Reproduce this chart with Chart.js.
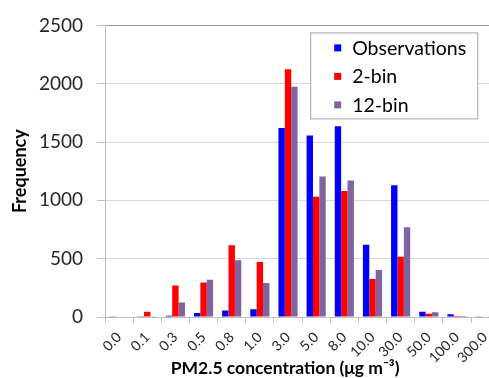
<!DOCTYPE html>
<html>
<head>
<meta charset="utf-8">
<script src="https://cdn.jsdelivr.net/npm/chart.js@4"></script>
<style>
  html, body { margin: 0; padding: 0; background: #fff; overflow: hidden; }
  #wrap { width: 503px; height: 378px; position: relative; }
</style>
</head>
<body>
<div id="wrap"><canvas id="myChart"></canvas></div>
<script>
const labels = ['0.0', '0.1', '0.3', '0.5', '0.8', '1.0', '3.0', '5.0', '8.0', '10.0', '30.0', '50.0', '100.0', '300.0'];

const observations = [3, 3, 10, 34, 56, 67, 1620, 1555, 1635, 620, 1130, 45, 23, 3];
const twoBin = [0, 45, 270, 295, 615, 471, 2125, 1030, 1080, 326, 516, 28, 8, 0];
const twelveBin = [0, 3, 124, 320, 486, 292, 1975, 1205, 1170, 404, 770, 40, 8, 2];

const yTicks = [0, 500, 1000, 1500, 2000, 2500];

const xTitle = 'PM2.5 concentration (\u03bcg m\u207b\u00b3)';

const data = {
    labels: labels,
    datasets: [
        { label: 'Observations', data: observations, backgroundColor: '#0000FF' },
        { label: '2-bin', data: twoBin, backgroundColor: '#FF0000' },
        { label: '12-bin', data: twelveBin, backgroundColor: '#8064A2' },
    ]
};

// legend drawn as a boxed overlay in the top right of the plot
const boxLegend = {
    id: 'boxLegend',
    afterDraw(chart) {
        const ctx = chart.ctx;
        const area = chart.chartArea;
        const x = area.right - 189, y = area.top + 7, w = 167, h = 86;
        ctx.save();
        ctx.fillStyle = '#fff';
        ctx.fillRect(x, y, w, h);
        ctx.strokeStyle = '#a6a6a6';
        ctx.lineWidth = 1;
        ctx.strokeRect(x + 0.5, y + 0.5, w, h);
        ctx.font = '19.5px Lato, "Open Sans", sans-serif';
        ctx.textBaseline = 'middle';
        chart.data.datasets.forEach((ds, i) => {
            const cy = y + 16 + i * 28.5;
            ctx.fillStyle = ds.backgroundColor;
            ctx.fillRect(x + 24, cy - 4, 7, 7);
            ctx.fillStyle = '#000';
            ctx.fillText(ds.label, x + 42, cy);
        });
        ctx.restore();
    }
};

// x axis title, sits a bit left of the plot centre like the original
const xAxisTitle = {
    id: 'xAxisTitle',
    afterDraw(chart) {
        const ctx = chart.ctx;
        const area = chart.chartArea;
        ctx.save();
        ctx.font = 'bold 17.5px Lato, "Open Sans", sans-serif';
        ctx.fillStyle = '#000';
        ctx.textAlign = 'center';
        ctx.textBaseline = 'middle';
        ctx.fillText(xTitle, (area.left + area.right) / 2 - 17, chart.height - 10);
        ctx.restore();
    }
};

const config = {
    type: 'bar',
    data: data,
    options: {
        responsive: true,
        maintainAspectRatio: false,
        animation: false,
        layout: { padding: { top: 20, right: 0, left: 0, bottom: 0 } },
        datasets: {
            bar: { barPercentage: 1, categoryPercentage: 0.68 }
        },
        plugins: {
            legend: { display: false },
            tooltip: { enabled: false },
        },
        scales: {
            x: {
                grid: { display: true, drawOnChartArea: false, tickLength: 6, color: '#bfbfbf' },
                border: { color: '#bfbfbf' },
                ticks: {
                    autoSkip: false,
                    minRotation: 45, maxRotation: 45, padding: 6,
                    color: '#262626',
                    font: { family: 'Lato, "Open Sans", sans-serif', size: 14 }
                },
                afterFit(scale) { scale.height = 61; }
            },
            y: {
                min: 0, max: 2500,
                afterBuildTicks(scale) { scale.ticks = yTicks.map(v => ({ value: v })); },
                grid: {
                    tickLength: 8,
                    color: ctx => ctx.tick && ctx.tick.value === 2500 ? '#9a9a9a' : '#d9d9d9',
                    tickColor: '#bfbfbf'
                },
                border: { color: '#bfbfbf' },
                ticks: {
                    padding: 14,
                    color: '#262626',
                    font: { family: 'Lato, "Open Sans", sans-serif', size: 19 },
                    callback: v => String(v)
                },
                title: {
                    display: true,
                    text: 'Frequency',
                    color: '#000',
                    padding: { top: 9, bottom: 0 },
                    font: { family: 'Lato, "Open Sans", sans-serif', size: 18, weight: 'bold' }
                },
                afterFit(scale) { scale.width = 105; }
            }
        }
    },
    plugins: [boxLegend, xAxisTitle]
};

const myChart = new Chart(document.getElementById('myChart'), config);
</script>
</body>
</html>
